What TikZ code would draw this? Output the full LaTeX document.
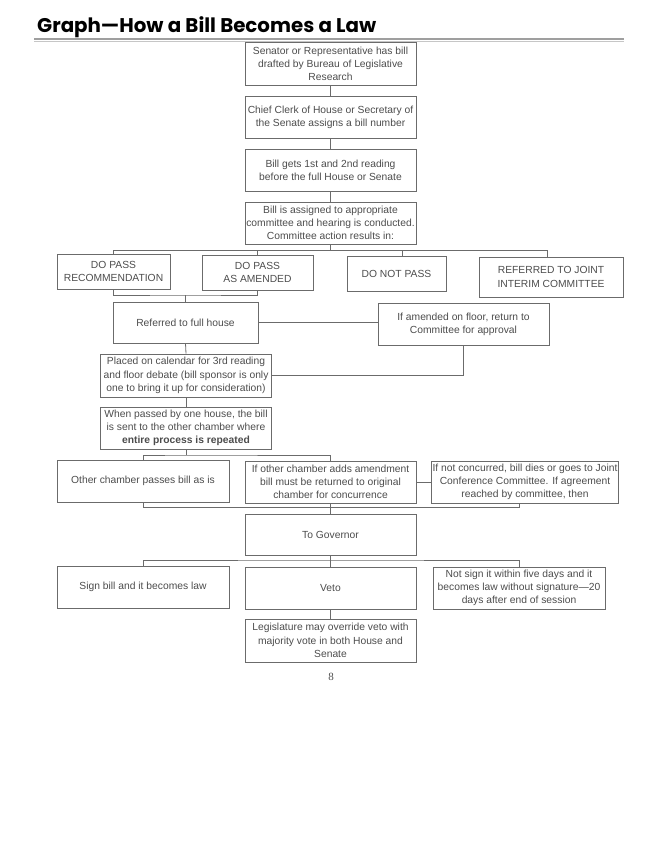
\documentclass[tikz,border=0pt]{standalone}
\usepackage{fontspec}
\setmainfont{Liberation Sans}
\newfontfamily\titlefont{Poppins}
\newfontfamily\pagefont{Liberation Serif}
\usetikzlibrary{positioning}
\definecolor{linegray}{gray}{0.42}
\definecolor{textgray}{gray}{0.3}
\begin{document}
\begin{tikzpicture}[x=1pt,y=-1pt,
  box/.style={draw=linegray, line width=0.8pt, align=center, inner sep=1pt,
    text=textgray, font=\fontsize{10.3}{13.3}\selectfont},
  link/.style={draw=linegray, line width=0.8pt}]
\useasboundingbox (0,0) rectangle (657,850);
% title and rule
\node[anchor=base west, inner sep=0pt, font=\titlefont\bfseries\fontsize{19.8}{22}\selectfont] (title) at (37,33) {Graph—How a Bill Becomes a Law};
\draw[gray!75, line width=1.6pt] (34,39.2) -- (624,39.2);
\draw[gray!45, line width=1pt] (34,41.8) -- (624,41.8);

% first steps
\node[box, minimum width=171, minimum height=43] (draft) at (330.5,64) {Senator or Representative has bill\\drafted by Bureau of Legislative\\Research};
\node[box, minimum width=171, minimum height=42] (number) at (330.5,117.5) {Chief Clerk of House or Secretary of\\the Senate assigns a bill number};
\node[box, minimum width=171, minimum height=42] (reading) at (330.5,170) {Bill gets 1st and 2nd reading\\before the full House or Senate};
\node[box, minimum width=171, minimum height=42] (committee) at (330.5,223) {Bill is assigned to appropriate\\committee and hearing is conducted.\\Committee action results in:};

% committee actions
\node[box, minimum width=113, minimum height=35] (dopass) at (113.5,271.5) {DO PASS\\RECOMMENDATION};
\node[box, minimum width=111, minimum height=35] (amended) at (257.5,272.5) {DO PASS\\AS AMENDED};
\node[box, minimum width=99, minimum height=35] (notpass) at (396.5,273.5) {DO NOT PASS};
\node[box, minimum width=144, minimum height=40] (interim) at (551,277) {REFERRED TO JOINT\\INTERIM COMMITTEE};

\node[box, minimum width=145, minimum height=41] (fullhouse) at (185.5,322.5) {Referred to full house};
\node[box, minimum width=171, minimum height=42] (floor) at (463.5,324) {If amended on floor, return to\\Committee for approval};
\node[box, minimum width=171, minimum height=43] (calendar) at (186,375.5) {Placed on calendar for 3rd reading\\and floor debate (bill sponsor is only\\one to bring it up for consideration)};
\node[box, minimum width=171, minimum height=42] (passed) at (186,428) {When passed by one house, the bill\\is sent to the other chamber where\\\textbf{entire process is repeated}};

% other chamber
\node[box, minimum width=172, minimum height=42] (asis) at (143,481) {Other chamber passes bill as is};
\node[box, minimum width=171, minimum height=42] (amend) at (330.5,482) {If other chamber adds amendment\\bill must be returned to original\\chamber for concurrence};
\node[box, minimum width=183, minimum height=42] (conference) at (525,482) {If not concurred, bill dies or goes to Joint\\Conference Committee. If agreement\\reached by committee, then};

% governor
\node[box, minimum width=171, minimum height=41] (governor) at (330.5,534.5) {To Governor};
\node[box, minimum width=172, minimum height=42] (sign) at (143,587) {Sign bill and it becomes law};
\node[box, minimum width=171, minimum height=42] (veto) at (330.5,588) {Veto};
\node[box, minimum width=172, minimum height=42] (nosign) at (519,588) {Not sign it within five days and it\\becomes law without signature---20\\days after end of session};
\node[box, minimum width=171, minimum height=43] (override) at (330.5,640.5) {Legislature may override veto with\\majority vote in both House and\\Senate};

\node[font=\pagefont\fontsize{11}{12}\selectfont, text=textgray] (page) at (331,677) {8};

% junctions
\coordinate (busA) at (113.5,250);
\coordinate (busB) at (257.5,250);
\coordinate (busC) at (402,250);
\coordinate (busD) at (547,250);
\coordinate (passJ) at (185.5,295);
\coordinate (chamberJ) at (186,455);
\coordinate (backJ) at (519.5,507);
\coordinate (govJ) at (330.5,560);

\draw[link] (draft) -- (number);
\draw[link] (number) -- (reading);
\draw[link] (reading) -- (committee);
\draw[link] (committee.south) -- (committee.south |- busA);
\draw[link] (busA) -- (busD);
\draw[link] (busA) -- (dopass.north);
\draw[link] (busB) -- (amended.north);
\draw[link] (busC) -- (busC |- notpass.north);
\draw[link] (busD) -- (busD |- interim.north);

\draw[link] (dopass.south) |- (passJ) -| (amended.south);
\draw[link] (passJ) -- (fullhouse.north);
\draw[link] (fullhouse.east) -- (fullhouse.east -| floor.west);
\draw[link] (floor.south) |- (calendar.east);
\draw[link] (fullhouse.south) -- (calendar.north);
\draw[link] (calendar) -- (passed);

\draw[link] (passed.south) -- (chamberJ);
\draw[link] (asis.north) |- (chamberJ) -| (amend.north);
\draw[link] (amend.east) -- (conference.west);
\draw[link] (asis.south) |- (backJ);
\draw[link] (backJ) -- (backJ |- conference.south);
\draw[link] (amend) -- (governor);

\draw[link] (governor.south) -- (govJ);
\draw[link] (sign.north) |- (govJ) -| (nosign.north);
\draw[link] (govJ) -- (veto.north);
\draw[link] (veto) -- (override);
\end{tikzpicture}
\end{document}
